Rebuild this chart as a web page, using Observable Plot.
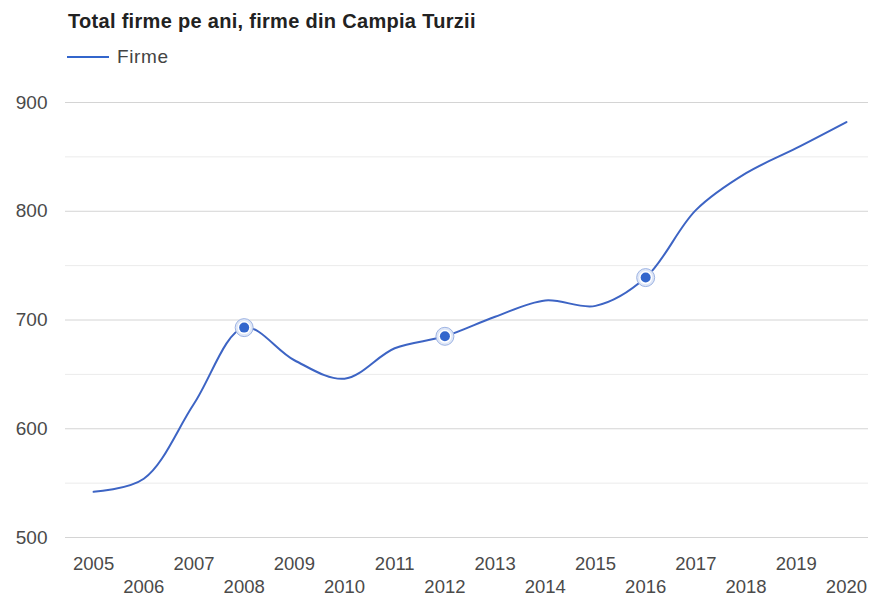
<!DOCTYPE html>
<html><head><meta charset="utf-8">
<script src="https://cdn.jsdelivr.net/npm/d3@7"></script>
<script src="https://cdn.jsdelivr.net/npm/@observablehq/plot@0.6"></script>
<style>
body{margin:0;background:#fff;font-family:"Liberation Sans",Arial,sans-serif;}
#wrap{position:relative;width:870px;height:597px;}
#title{position:absolute;left:68px;top:10px;font-weight:bold;font-size:20px;letter-spacing:0.3px;color:#222;white-space:nowrap;line-height:23px;}
#legend{position:absolute;left:67px;top:46px;font-size:19px;letter-spacing:0.6px;color:#444;display:flex;align-items:center;line-height:22px;}
#legend .sw{width:42px;height:2px;background:#3366cc;margin-right:8px;}
#chart{position:absolute;left:0;top:75px;}
</style></head>
<body><div id="wrap">
<div id="title">Total firme pe ani, firme din Campia Turzii</div>
<div id="legend"><span class="sw"></span><span>Firme</span></div>
<div id="chart"></div>
</div>
<script>
const years = [2005,2006,2007,2008,2009,2010,2011,2012,2013,2014,2015,2016,2017,2018,2019,2020];
const firme = [542,554,623,693,663,646,674,685,703,718,713,739,801,835,858,882];
const highlighted = [2008,2012,2016];
const majorTicks = [500,600,700,800,900];
const minorTicks = [550,650,750,850];

const data = years.map((y,i)=>({year:y, value:firme[i]}));
const hl = data.filter(d=>highlighted.includes(d.year));
const oddYears = years.filter(y=>y%2===1);
const evenYears = years.filter(y=>y%2===0);

const plot = Plot.plot({
  width: 870,
  height: 522,
  marginLeft: 65,
  marginRight: 2,
  marginTop: 27,
  marginBottom: 60,
  style: {fontFamily: '"Liberation Sans", Arial, sans-serif', fontSize: "18.5px", color: "#444", background: "#fff"},
  x: {domain: [2004.44, 2020.44]},
  y: {domain: [500, 900]},
  marks: [
    Plot.ruleY(minorTicks, {stroke: "#ebebeb", strokeWidth: 1}),
    Plot.ruleY(majorTicks, {stroke: "#d4d4d4", strokeWidth: 1}),
    Plot.axisY({ticks: majorTicks, tickSize: 0, tickPadding: 18, label: null, fill: "#4a4a4a", fontSize: 19}),
    Plot.axisX({ticks: oddYears, tickSize: 0, tickPadding: 19, label: null, tickFormat: d=>String(d), fill: "#4a4a4a", fontSize: 18.5}),
    Plot.axisX({ticks: evenYears, tickSize: 0, tickPadding: 42, label: null, tickFormat: d=>String(d), fill: "#4a4a4a", fontSize: 18.5}),
    Plot.line(data, {x: "year", y: "value", stroke: "#3d64c4", strokeWidth: 2, curve: "catmull-rom"}),
    Plot.dot(hl, {x: "year", y: "value", r: 9, fill: "#dfe7f7", stroke: "#9db3e3", strokeWidth: 1}),
    Plot.dot(hl, {x: "year", y: "value", r: 6.5, fill: "#fff", stroke: "none"}),
    Plot.dot(hl, {x: "year", y: "value", r: 5, fill: "#3366cc", stroke: "none"})
  ]
});
document.getElementById("chart").appendChild(plot);
</script>
</body></html>
